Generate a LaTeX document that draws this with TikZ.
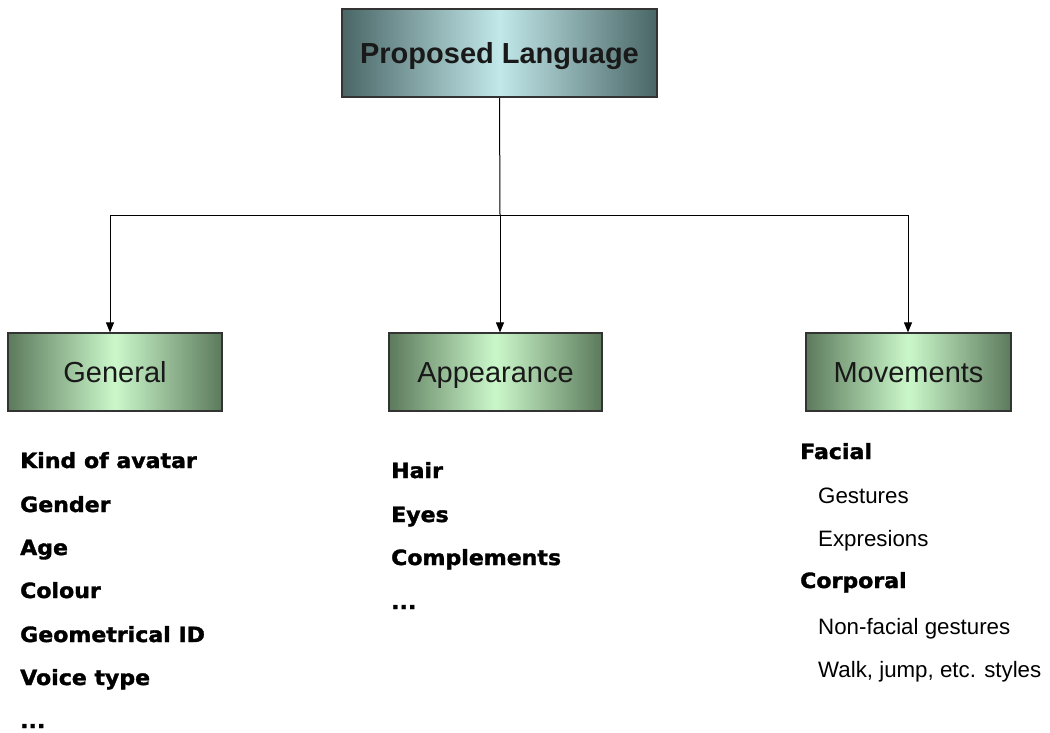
\documentclass[tikz,border=0pt]{standalone}
\usepackage{fontspec}
\setmainfont{Liberation Sans}
\newfontfamily\heavyfont{DejaVu Sans}[BoldFeatures={FakeBold=1.6,FakeStretch=1.05}]
\usetikzlibrary{arrows.meta}
\definecolor{slatedark}{HTML}{4A6666}
\definecolor{slatelight}{HTML}{C2E8EA}
\definecolor{greendark}{HTML}{5C7A5C}
\definecolor{greenlight}{HTML}{CBF8CB}
\definecolor{edgegray}{HTML}{333333}
\tikzset{
  topbox/.style={draw=edgegray, line width=1.5pt, left color=slatedark, right color=slatedark, middle color=slatelight,
    minimum width=315pt, minimum height=88pt, inner sep=0pt, text height=20pt, text depth=0pt,
    font=\fontsize{29}{34}\selectfont\bfseries, text=black!90},
  catbox/.style={draw=edgegray, line width=1.2pt, left color=greendark, right color=greendark, middle color=greenlight,
    minimum height=78pt, inner sep=0pt, text height=21pt, text depth=0pt,
    font=\fontsize{29}{34}\selectfont, text=black!90},
  itemtxt/.style={anchor=base west, inner sep=0pt, font=\heavyfont\bfseries\fontsize{21}{24}\selectfont},
  subtxt/.style={anchor=base west, inner sep=0pt, font=\fontsize{22.3}{26}\selectfont},
  conn/.style={draw=black, line width=1pt},
  arr/.style={conn, -{Triangle[length=10pt,width=8pt]}}
}
\begin{document}
\begin{tikzpicture}[x=1pt,y=-1pt]
\useasboundingbox (0,0) rectangle (1050,732);
\node[topbox] (top) at (499.5,53) {Proposed Language};
\node[catbox, minimum width=214pt] (gen) at (115,372) {General};
\node[catbox, minimum width=213pt] (app) at (495.5,372) {Appearance};
\node[catbox, minimum width=205pt] (mov) at (908.5,372) {Movements};
\coordinate (j) at (500,215);
\coordinate (jl) at (110,215);
\coordinate (jr) at (908,215);
\draw[conn] (top.south) -- (j);
\draw[conn] (jl) -- (jr);
\draw[arr] (jl) -- (jl |- gen.north);
\draw[arr] (j) -- (j |- app.north);
\draw[arr] (jr) -- (jr |- mov.north);
% General list
\node[itemtxt] (g1) at (20,468) {Kind of avatar};
\node[itemtxt] (g2) at (20,512) {Gender};
\node[itemtxt] (g3) at (20,555) {Age};
\node[itemtxt] (g4) at (20,598) {Colour};
\node[itemtxt] (g5) at (20,642) {Geometrical ID};
\node[itemtxt] (g6) at (20,685) {Voice type};
\node[itemtxt] (g7) at (20,728) {...};
% Appearance list
\node[itemtxt] (a1) at (391,478) {Hair};
\node[itemtxt] (a2) at (391,522) {Eyes};
\node[itemtxt] (a3) at (391,565) {Complements};
\node[itemtxt] (a4) at (391,609) {...};
% Movements list
\node[itemtxt] (m1) at (800,459) {Facial};
\node[subtxt] (m2) at (818,503) {Gestures};
\node[subtxt] (m3) at (818,546) {Expresions};
\node[itemtxt] (m4) at (800,588) {Corporal};
\node[subtxt] (m5) at (818,634) {Non-facial gestures};
\node[subtxt] (m6) at (818,677) {Walk, jump, etc. styles};
\end{tikzpicture}
\end{document}
